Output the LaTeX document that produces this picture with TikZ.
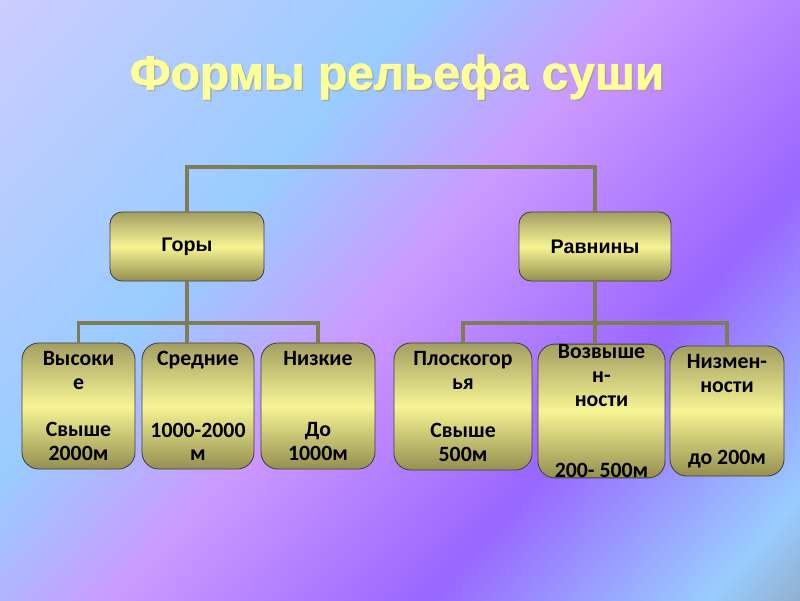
\documentclass[tikz,border=0pt]{standalone}
\usepackage{fontspec}
\newfontfamily\titlefont{Liberation Sans}[BoldFeatures={FakeBold=1.3}]
\newfontfamily\labelfont{Liberation Sans}
\newfontfamily\boxfont{Carlito}

\definecolor{bgA}{HTML}{CCCCFF}
\definecolor{bgB}{HTML}{99CCFF}
\definecolor{bgC}{HTML}{CC99FF}
\definecolor{bgD}{HTML}{9966FF}
\definecolor{bgE}{HTML}{90AFCF}
\definecolor{oliveTop}{HTML}{A29E62}
\definecolor{oliveMid}{HTML}{F7F494}
\definecolor{oliveBot}{HTML}{948F50}
\definecolor{linkgray}{HTML}{7E7D58}
\definecolor{titleyellow}{HTML}{FFFF99}

\pgfdeclarehorizontalshading{bgshade}{100bp}{color(0bp)=(bgA); color(25bp)=(bgA); color(41bp)=(bgB); color(49.5bp)=(bgC); color(61bp)=(bgD); color(71.5bp)=(bgB); color(75bp)=(bgE); color(100bp)=(bgE)}

\begin{document}
\begin{tikzpicture}[x=0.025cm,y=-0.025cm,
  titletext/.style={font=\titlefont\bfseries\fontsize{34}{38}\selectfont, text=titleyellow, inner sep=0pt},
  shadowtext/.style={titletext, text=black!40!titleyellow, opacity=0.4},
  topbox/.style={draw=black!75, line width=0.6pt, rounded corners=0.3cm, top color=oliveTop, bottom color=oliveBot, middle color=oliveMid, minimum height=1.725cm, inner sep=0pt, font=\labelfont\bfseries\fontsize{14}{16}\selectfont},
  subbox/.style={draw=black!75, line width=0.6pt, rounded corners=0.42cm, top color=oliveTop, bottom color=oliveBot, middle color=oliveMid, inner sep=0pt, align=center, font=\boxfont\bfseries\fontsize{15.5}{17}\selectfont},
  link/.style={draw=linkgray, line width=2.2pt}]

\useasboundingbox (0,0) rectangle (800,600);
\begin{scope}
\clip (0,0) rectangle (800,600);
\begin{scope}[transform canvas={rotate=-41.8}]
\shade[shading=bgshade] (0,-540) rectangle (997,455);
\end{scope}
\end{scope}

\node[shadowtext] (titleshadow) at (398.5,78.5) {Формы рельефа суши};
\node[titletext] (title) at (397,77) {Формы рельефа суши};

\node[topbox, minimum width=3.85cm] (gory) at (187,246.5) {Горы};
\node[topbox, minimum width=3.8cm] (ravniny) at (595,246.5) {Равнины};

\node[subbox, minimum width=2.825cm, minimum height=3.15cm] (vysokie) at (78.5,406) {Высоки\\е\\~\\Свыше\\2000м};
\node[subbox, minimum width=2.8cm, minimum height=3.15cm] (srednie) at (198,406) {Средние\\~\\~\\1000-2000\\м};
\node[subbox, minimum width=2.85cm, minimum height=3.15cm] (nizkie) at (318,406) {Низкие\\~\\~\\До\\1000м};
\node[subbox, minimum width=3.45cm, minimum height=3.175cm] (ploskogorya) at (463,406.5) {Плоскогор\\ья\\~\\Свыше\\500м};
\node[subbox, minimum width=3.175cm, minimum height=3.3cm] (vozvysh) at (601.5,411) {Возвыше\\н-\\ности\\~\\~\\200- 500м};
\node[subbox, minimum width=2.85cm, minimum height=3.25cm] (nizmen) at (727,411) {Низмен-\\ности\\~\\~\\до 200м};

\coordinate (topbar) at (391,167);
\coordinate (leftbar) at (187,323);
\coordinate (rightbar) at (595,323);

\draw[link] (gory.north) |- (topbar) -| (ravniny.north);
\draw[link] (gory.south) -- (gory.south |- srednie.north);
\draw[link] (vysokie.north) |- (leftbar) -| (nizkie.north);
\draw[link] (ravniny.south) -- (ravniny.south |- vozvysh.north);
\draw[link] (ploskogorya.north) |- (rightbar) -| (nizmen.north);
\end{tikzpicture}
\end{document}
